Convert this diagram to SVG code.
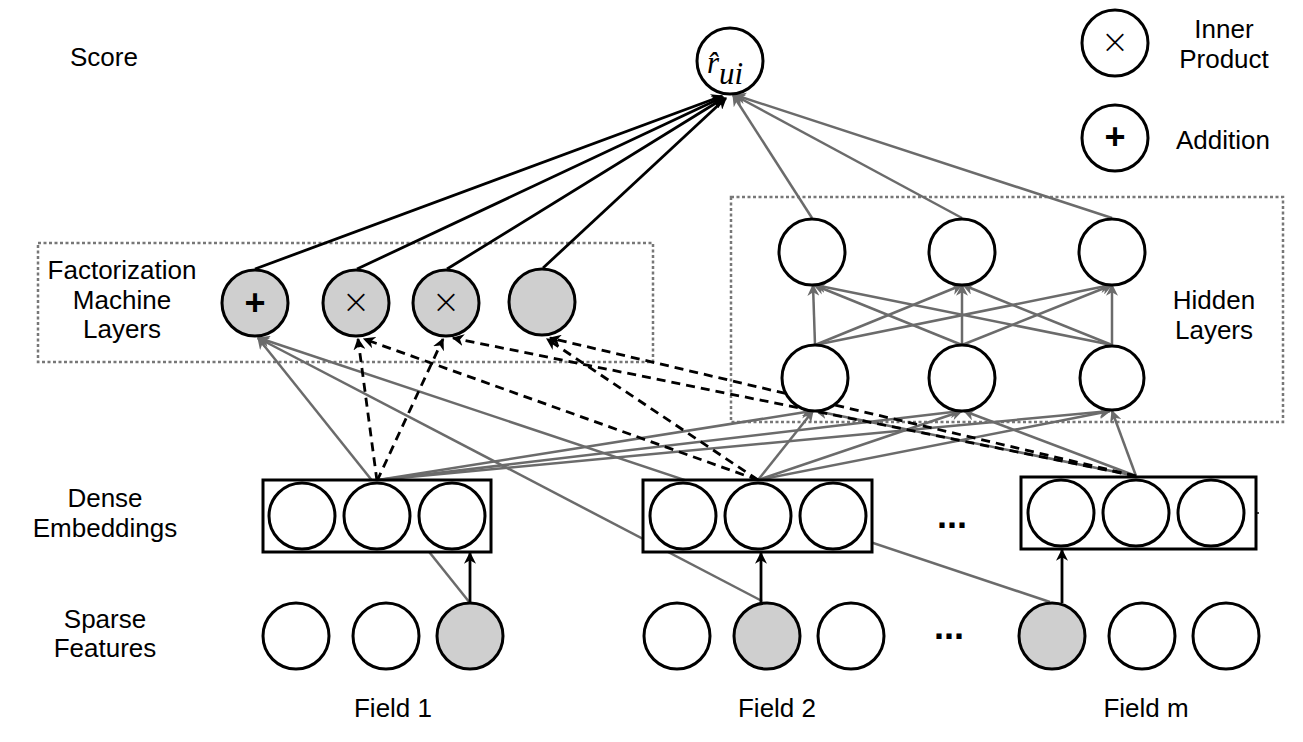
<svg xmlns="http://www.w3.org/2000/svg" width="1303" height="742" viewBox="0 0 1303 742">
<defs>
<style>
.lbl{font-family:"Liberation Sans",Arial,sans-serif;font-size:26px;fill:#000;text-anchor:middle}
.n{fill:#fff;stroke:#000;stroke-width:3}
.g{fill:#cfcfcf;stroke:#000;stroke-width:3}
.box{fill:#fff;stroke:#000;stroke-width:3}
.dot{fill:none;stroke:#777;stroke-width:2.5;stroke-dasharray:3 2.5}
.gl{stroke:#6b6b6b;stroke-width:2.5;fill:none;marker-end:url(#ag)}
.bl{stroke:#000;stroke-width:2.8;fill:none;marker-end:url(#ab)}
.dl{stroke:#000;stroke-width:2.8;fill:none;stroke-dasharray:9 6;marker-end:url(#ab)}
.sym{font-family:"Liberation Sans",Arial,sans-serif;fill:#000;text-anchor:middle}
.x{font-family:"DejaVu Sans",sans-serif;font-weight:200;fill:#000;text-anchor:middle}
</style>
<marker id="ag" viewBox="0 0 10 10" refX="9" refY="5" markerWidth="12" markerHeight="12" markerUnits="userSpaceOnUse" orient="auto"><path d="M0,0 L10,5 L0,10 L3,5 Z" fill="#6b6b6b"/></marker>
<marker id="ab" viewBox="0 0 10 10" refX="9" refY="5" markerWidth="12" markerHeight="12" markerUnits="userSpaceOnUse" orient="auto"><path d="M0,0 L10,5 L0,10 L3,5 Z" fill="#000"/></marker>
</defs>
<rect width="1303" height="742" fill="#fff"/>

<g id="fm-box"><rect class="dot" x="38" y="243" width="615" height="119"/></g>
<g id="hidden-box"><rect class="dot" x="731" y="197" width="552" height="225"/></g>

<g id="connectors">
<line class="bl" x1="255" y1="269" x2="722" y2="96"/>
<line class="bl" x1="357" y1="269" x2="723" y2="97"/>
<line class="bl" x1="447" y1="269" x2="724" y2="98"/>
<line class="bl" x1="543" y1="268" x2="726" y2="98"/>
<line class="gl" x1="812" y1="218" x2="733" y2="95"/>
<line class="gl" x1="962" y1="218" x2="734" y2="95"/>
<line class="gl" x1="1112" y1="218" x2="735" y2="95"/>
<line class="gl" x1="815" y1="345" x2="813" y2="285"/>
<line class="gl" x1="815" y1="345" x2="962" y2="285"/>
<line class="gl" x1="815" y1="345" x2="1111" y2="285"/>
<line class="gl" x1="962" y1="345" x2="814" y2="285"/>
<line class="gl" x1="962" y1="345" x2="962" y2="285"/>
<line class="gl" x1="962" y1="345" x2="1112" y2="285"/>
<line class="gl" x1="1112" y1="345" x2="815" y2="285"/>
<line class="gl" x1="1112" y1="345" x2="963" y2="285"/>
<line class="gl" x1="1112" y1="345" x2="1112" y2="285"/>
<line class="gl" x1="378" y1="480" x2="812" y2="411"/>
<line class="gl" x1="378" y1="480" x2="961" y2="411"/>
<line class="gl" x1="378" y1="480" x2="1110" y2="411"/>
<line class="gl" x1="758" y1="480" x2="813" y2="411"/>
<line class="gl" x1="758" y1="480" x2="962" y2="411"/>
<line class="gl" x1="758" y1="480" x2="1110" y2="411"/>
<line class="gl" x1="1136" y1="476" x2="816" y2="411"/>
<line class="gl" x1="1136" y1="476" x2="964" y2="411"/>
<line class="gl" x1="1136" y1="476" x2="1112" y2="411"/>
<line class="gl" x1="470" y1="603" x2="258" y2="338"/>
<line class="gl" x1="762" y1="601" x2="258" y2="338"/>
<line class="gl" x1="1050" y1="602" x2="259" y2="338"/>
<line class="dl" x1="377" y1="481" x2="358" y2="339"/>
<line class="dl" x1="377" y1="481" x2="443" y2="339"/>
<line class="dl" x1="758" y1="480" x2="364" y2="339"/>
<line class="dl" x1="1136" y1="476" x2="453" y2="338"/>
<line class="dl" x1="758" y1="480" x2="547" y2="339"/>
<line class="dl" x1="1136" y1="476" x2="550" y2="338"/>
<line class="bl" x1="470" y1="603" x2="470" y2="553"/>
<line class="bl" x1="761" y1="603" x2="761" y2="553"/>
<line class="bl" x1="1062" y1="603" x2="1062" y2="550"/>
</g>

<g id="output"><circle class="n" cx="730" cy="61" r="33"/>
<text x="707" y="73" font-family="'Liberation Serif','Times New Roman',serif" font-style="italic" font-size="31">r̂<tspan dy="11">ui</tspan></text>
</g>

<g id="legend-inner"><circle class="n" cx="1115" cy="43" r="33"/><text class="x" x="1115" y="53" font-size="34">×</text></g>
<g id="legend-add"><circle class="n" cx="1115" cy="138" r="33"/><text class="sym" x="1115" y="149" font-size="36" font-weight="bold">+</text></g>

<g id="fm-add"><circle class="g" cx="255" cy="303" r="33"/><text class="sym" x="255" y="315" font-size="36" font-weight="bold">+</text></g>
<g id="fm-ip1"><circle class="g" cx="356" cy="303" r="33"/><text class="x" x="356" y="313" font-size="34">×</text></g>
<g id="fm-ip2"><circle class="g" cx="446" cy="303" r="33"/><text class="x" x="446" y="313" font-size="34">×</text></g>
<g id="fm-ip3"><circle class="g" cx="542" cy="302" r="33"/></g>

<g id="hidden-top">
<circle class="n" cx="812" cy="252" r="33"/>
<circle class="n" cx="962" cy="252" r="33"/>
<circle class="n" cx="1112" cy="252" r="33"/>
</g>
<g id="hidden-bottom">
<circle class="n" cx="815" cy="378" r="33"/>
<circle class="n" cx="962" cy="378" r="33"/>
<circle class="n" cx="1112" cy="378" r="32"/>
</g>

<g id="embed-1"><rect class="box" x="263" y="480" width="228" height="72"/>
<circle class="n" cx="302" cy="516" r="33"/><circle class="n" cx="377" cy="516" r="33"/><circle class="n" cx="452" cy="516" r="33"/></g>
<g id="embed-2"><rect class="box" x="643" y="480" width="229" height="72"/>
<circle class="n" cx="683" cy="516" r="33"/><circle class="n" cx="758" cy="516" r="33"/><circle class="n" cx="833" cy="516" r="33"/></g>
<g id="embed-m"><rect class="box" x="1021" y="477" width="235" height="72"/>
<circle class="n" cx="1061" cy="513" r="33"/><circle class="n" cx="1136" cy="513" r="33"/><circle class="n" cx="1211" cy="513" r="33"/>
<line x1="1256" y1="513" x2="1259" y2="513" stroke="#000" stroke-width="1.5"/></g>

<g id="sparse-1"><circle class="n" cx="296" cy="636" r="33"/><circle class="n" cx="386" cy="636" r="33"/><circle class="g" cx="470" cy="636" r="33"/></g>
<g id="sparse-2"><circle class="n" cx="677" cy="636" r="33"/><circle class="g" cx="767" cy="636" r="33"/><circle class="n" cx="851" cy="636" r="33"/></g>
<g id="sparse-m"><circle class="g" cx="1052" cy="636" r="33"/><circle class="n" cx="1142" cy="636" r="33"/><circle class="n" cx="1226" cy="636" r="33"/></g>

<g id="ellipsis">
<text x="952" y="528" font-family="'Liberation Sans',Arial,sans-serif" font-size="36" font-weight="bold" text-anchor="middle" fill="#000">...</text>
<text x="949" y="639" font-family="'Liberation Sans',Arial,sans-serif" font-size="36" font-weight="bold" text-anchor="middle" fill="#000">...</text>
</g>

<g id="labels">
<text class="lbl" x="104" y="66">Score</text>
<text class="lbl" x="122" y="279">Factorization</text>
<text class="lbl" x="122" y="309">Machine</text>
<text class="lbl" x="122" y="338">Layers</text>
<text class="lbl" x="1214" y="309">Hidden</text>
<text class="lbl" x="1214" y="339">Layers</text>
<text class="lbl" x="105" y="507">Dense</text>
<text class="lbl" x="105" y="537">Embeddings</text>
<text class="lbl" x="105" y="628">Sparse</text>
<text class="lbl" x="105" y="657">Features</text>
<text class="lbl" x="393" y="717">Field 1</text>
<text class="lbl" x="777" y="717">Field 2</text>
<text class="lbl" x="1146" y="717">Field m</text>
<text class="lbl" x="1224" y="38">Inner</text>
<text class="lbl" x="1224" y="68">Product</text>
<text class="lbl" x="1223" y="149">Addition</text>
</g>
</svg>
